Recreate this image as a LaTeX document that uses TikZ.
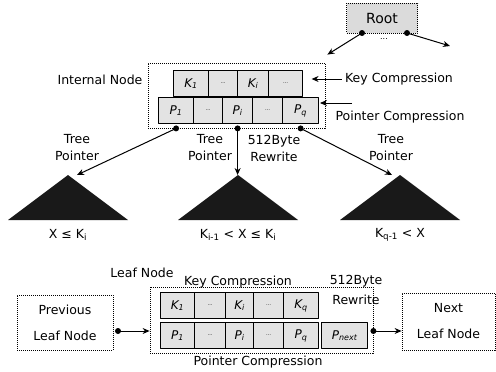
\documentclass[tikz,border=0pt]{standalone}
\usepackage{fontspec}
\setmainfont{DejaVu Sans}
\usetikzlibrary{arrows.meta, positioning}

\newcommand\celldots{{\upshape\tiny\ldots}}

\tikzset{
  cell/.style = {draw, line width = 1.2pt, fill = gray!22, inner sep = 0pt,
                 minimum height = 26pt, anchor = north west,
                 font = \itshape\fontsize{12}{14}\selectfont},
  frame/.style = {draw, dash pattern = on 1pt off 1pt, line width = 0.8pt},
  ptr/.style = {-{Stealth[length = 7pt, width = 6pt]}, line width = 1pt},
  lbl/.style = {align = center, font = \fontsize{12.5}{17}\selectfont},
  tree/.style = {fill = black!90},
  pin/.style = {fill = black},
}

\begin{document}
\begin{tikzpicture}[x = 1pt, y = -1pt, line join = round]
    \useasboundingbox (0, 0) rectangle (496, 372);

    % root
    \node[frame, fill = gray!28, minimum width = 71pt, minimum height = 30pt,
          font = \fontsize{14}{16}\selectfont] (root) at (382, 18) {Root};
    \node[font = \footnotesize] (rootdots) at (384, 39) {...};
    \coordinate (rootl) at (362, 33);
    \coordinate (rootr) at (407, 33);
    \coordinate (rootrend) at (450, 46);

    % internal node
    \node[frame, minimum width = 177pt, minimum height = 65pt] (inode) at (236.5, 95.5) {};
    \foreach \x/\w/\t [count = \n] in {173/35/{K\textsubscript{1}}, 208/29/{\celldots},
                                       237/31/{K\textsubscript{i}}, 268/34/{\celldots}}
        \node[cell, minimum width = \w] (k\n) at (\x, 70) {\t};
    \foreach \x/\w/\t [count = \n] in {158/35/{P\textsubscript{1}}, 193/29/{\celldots},
                                       222/30/{P\textsubscript{i}}, 252/30/{\celldots},
                                       282/36/{P\textsubscript{q}}}
        \node[cell, minimum width = \w] (p\n) at (\x, 97) {\t};
    \coordinate (rootlend) at ([xshift = 2pt, yshift = 8pt]inode.north east);

    \node[lbl] (inlabel) at (100, 80) {Internal Node};
    \node[lbl] (kc) at (399, 79) {Key Compression};
    \node[lbl] (pc) at (400, 117) {Pointer Compression};
    \coordinate (pcstart) at (352, 103);

    \coordinate (d1) at (p1 |- inode.south);
    \coordinate (d2) at (p3 |- inode.south);
    \coordinate (d3) at (p5 |- inode.south);

    % subtrees
    \coordinate (t1) at (68, 175);
    \coordinate (t2) at (238, 175);
    \coordinate (t3) at (400, 175);
    \foreach \t in {t1, t2, t3}
        \fill[tree] (\t) -- ++(-60, 45) -- ++(120, 0) -- cycle;

    \node[lbl] (tp1) at (77, 148) {Tree\\Pointer};
    \node[lbl] (tp2) at (210, 148) {Tree\\Pointer};
    \node[lbl] (rw1) at (274, 148) {512Byte\\Rewrite};
    \node[lbl] (tp3) at (391, 148) {Tree\\Pointer};

    \node[lbl] (r1) at (68, 235) {X ≤ K\textsubscript{i}};
    \node[lbl] (r2) at (238, 235) {K\textsubscript{i-1} < X ≤ K\textsubscript{i}};
    \node[lbl] (r3) at (400, 235) {K\textsubscript{q-1} < X};

    % connectors
    \draw[ptr] (rootl) -- (rootlend);
    \draw[ptr] (rootr) -- (rootrend);
    \draw[ptr] (kc.west) -- ++(-30, 0);
    \draw[ptr] (pcstart) -- ++(-32, 0);
    \draw[ptr] (d1) -- ([xshift = 9pt]t1);
    \draw[ptr] (d2) -- (d2 |- t2);
    \draw[ptr] (d3) -- ([xshift = -8pt]t3);
    \foreach \d in {rootl, rootr, d1, d2, d3}
        \fill[pin] (\d) circle (3pt);

    % leaf level
    \node[frame, minimum width = 96pt, minimum height = 55pt, lbl,
          font = \fontsize{12.5}{26}\selectfont] (prev) at (65, 322.5) {Previous\\Leaf Node};
    \node[frame, minimum width = 93pt, minimum height = 57pt, lbl,
          font = \fontsize{12.5}{26}\selectfont] (next) at (448.5, 321.5) {Next\\Leaf Node};

    \node[frame, minimum width = 223pt, minimum height = 66pt] (lnode) at (261.5, 320) {};
    \foreach \x/\w/\t [count = \n] in {160/34/{K\textsubscript{1}}, 194/31/{\celldots},
                                       225/28/{K\textsubscript{i}}, 253/30/{\celldots},
                                       283/35/{K\textsubscript{q}}}
        \node[cell, minimum width = \w] (lk\n) at (\x, 292) {\t};
    \foreach \x/\w/\t [count = \n] in {160/34/{P\textsubscript{1}}, 194/31/{\celldots},
                                       225/28/{P\textsubscript{i}}, 253/30/{\celldots},
                                       283/35/{P\textsubscript{q}}, 321/46/{P\textsubscript{next}}}
        \node[cell, minimum width = \w] (lp\n) at (\x, 322) {\t};

    \node[lbl] (llabel) at (142, 273) {Leaf Node};
    \node[lbl] (lkc) at (238, 282) {Key Compression};
    \node[lbl, font = \fontsize{12.5}{20}\selectfont] (rw2) at (356, 290) {512Byte\\Rewrite};
    \node[lbl] (lpc) at (258, 362) {Pointer Compression};

    \coordinate (ldot) at (118, 331);
    \coordinate (rdot) at (lnode.east |- ldot);
    \draw[ptr] (ldot) -- (lnode.west |- ldot);
    \draw[ptr] (rdot) -- (next.west |- rdot);
    \foreach \d in {ldot, rdot}
        \fill[pin] (\d) circle (3pt);
\end{tikzpicture}
\end{document}
